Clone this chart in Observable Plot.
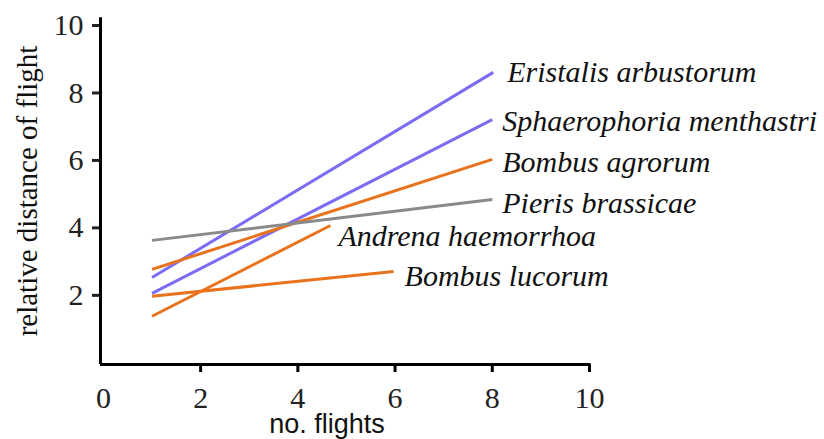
<!DOCTYPE html>
<html>
<head>
<meta charset="utf-8">
<script src="https://cdn.jsdelivr.net/npm/d3@7"></script>
<script src="https://cdn.jsdelivr.net/npm/@observablehq/plot@0.6"></script>
<style>
  html, body { margin: 0; padding: 0; background: #fff; }
  #chart svg { display: block; }
</style>
</head>
<body>
<div id="chart"></div>
<script>
// Data
const species = ["Eristalis arbustorum", "Sphaerophoria menthastri", "Bombus agrorum", "Pieris brassicae", "Andrena haemorrhoa", "Bombus lucorum"];
const group = ["fly", "fly", "bee", "butterfly", "bee", "bee"];
const xStart = [1, 1, 1, 1, 1, 1];
const yStart = [2.53, 2.06, 2.77, 3.63, 1.38, 1.97];
const xEnd = [8.02, 8.0, 8.0, 8.0, 4.67, 5.97];
const yEnd = [8.61, 7.21, 6.03, 4.84, 4.07, 2.71];
const xTicks = [0, 2, 4, 6, 8, 10];
const yTicks = [2, 4, 6, 8, 10];

const rows = species.map((s, i) => ({species: s, group: group[i], x1: xStart[i], y1: yStart[i], x2: xEnd[i], y2: yEnd[i]}));

// label offsets (styling, not data)
const labelOffset = {
  "Eristalis arbustorum": [14, 0],
  "Sphaerophoria menthastri": [10, 2],
  "Bombus agrorum": [10, 3],
  "Pieris brassicae": [10, 4],
  "Andrena haemorrhoa": [8, 11],
  "Bombus lucorum": [11, 5]
};

const serif = "'Liberation Serif', 'Times New Roman', serif";

const labelMarks = rows.map(r => Plot.text([r], {
  x: "x2", y: "y2", text: "species",
  textAnchor: "start",
  dx: labelOffset[r.species][0], dy: labelOffset[r.species][1],
  fontFamily: serif, fontStyle: "italic", fontSize: 30, fill: "#111"
}));

const chart = Plot.plot({
  width: 824,
  height: 439,
  marginLeft: 100,
  marginRight: 235,
  marginTop: 25,
  marginBottom: 75,
  x: {domain: [-0.06, 10]},
  y: {domain: [-0.05, 10]},
  color: {domain: ["fly", "bee", "butterfly"], range: ["#7b6cf2", "#e8731c", "#8a8a8a"]},
  style: {background: "#fff"},
  marks: [
    // x tick labels
    Plot.axisX({ticks: xTicks, tickSize: 0, tickPadding: 22, fontFamily: serif, fontSize: 30, color: "#222", label: null}),
    // x ticks (no tick at 0)
    Plot.axisX({ticks: xTicks.filter(d => d !== 0), tickSize: 8, strokeWidth: 3, text: null, label: null}),
    // y ticks and labels
    Plot.axisY({ticks: yTicks, tickSize: 8, tickPadding: 9, strokeWidth: 3, fontFamily: serif, fontSize: 30, color: "#222", label: null}),
    // axis lines
    Plot.ruleX([-0.06], {y1: -0.05, y2: 10.23, stroke: "#000", strokeWidth: 3}),
    Plot.ruleY([-0.05], {x1: -0.06, x2: 10.03, stroke: "#000", strokeWidth: 3}),
    // regression lines
    Plot.link(rows, {x1: "x1", y1: "y1", x2: "x2", y2: "y2", stroke: "group", strokeWidth: 3}),
    ...labelMarks,
    // axis titles
    Plot.text(["relative distance of flight"], {
      frameAnchor: "left", textAnchor: "middle", rotate: -90, dx: -73, dy: -4,
      fontFamily: serif, fontSize: 29, fill: "#111"
    }),
    Plot.text(["no. flights"], {
      frameAnchor: "bottom", lineAnchor: "bottom", dx: -18, dy: 68,
      fontFamily: "'Liberation Sans', Arial, sans-serif", fontSize: 27, fill: "#111"
    })
  ]
});

document.getElementById("chart").appendChild(chart);
</script>
</body>
</html>
